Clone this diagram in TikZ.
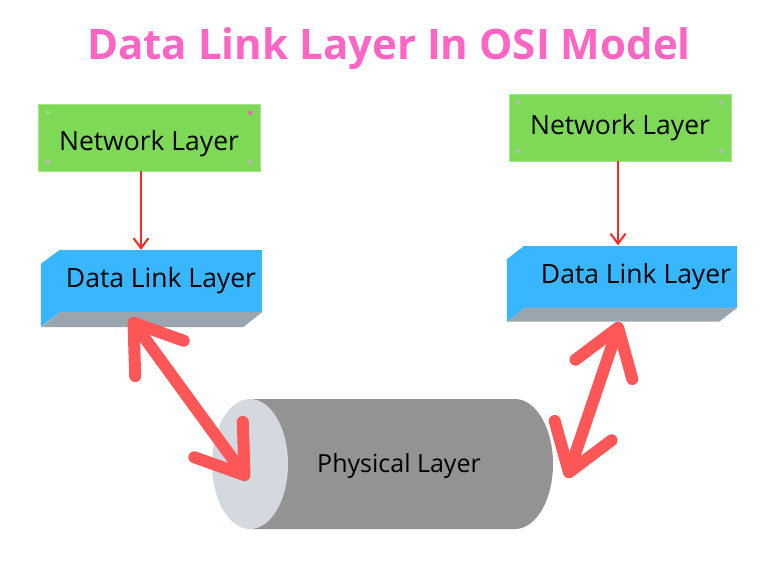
\documentclass[tikz,border=0pt]{standalone}
\usepackage{fontspec}
\setmainfont{Open Sans}
\usepackage{tikz}
\usetikzlibrary{arrows.meta, positioning}
\definecolor{titlepink}{HTML}{FF66C4}
\definecolor{netgreen}{HTML}{7ED957}
\definecolor{dllblue}{HTML}{38B6FF}
\definecolor{dllgray}{HTML}{9AA6AF}
\definecolor{cylbody}{HTML}{939393}
\definecolor{cylend}{HTML}{D3D9DE}
\definecolor{linkred}{HTML}{FF5757}
\definecolor{passred}{HTML}{FF2626}
\tikzstyle{network}=[rectangle, fill=netgreen, draw=netgreen!70!white, minimum width=222pt, minimum height=67pt, font=\fontsize{26.5}{30}\selectfont]
\tikzstyle{datalink}=[rectangle, fill=dllblue, minimum width=202pt, minimum height=62pt, font=\fontsize{26.5}{30}\selectfont]
\tikzstyle{handle}=[circle, fill=gray!55, inner sep=0pt, minimum size=4.5pt]
\tikzstyle{pass}=[passred, line width=2pt, -{Straight Barb[length=10pt,width=15pt]}]
\tikzstyle{link}=[linkred, line width=12pt, line cap=round, {Straight Barb[length=44pt,width=60pt,round]}-{Straight Barb[length=44pt,width=60pt,round]}]

\begin{document}
\begin{tikzpicture}[x=1pt,y=-1pt]
    \useasboundingbox (0,0) rectangle (776,560);

    % Title.
    \node[text=titlepink, font=\fontsize{42}{46}\selectfont\bfseries] (title) at (389,49) {Data Link Layer In OSI Model};

    % Left stack.
    \node[network, label={[yshift=-6pt, font=\fontsize{26.5}{30}\selectfont]center:Network Layer}] (netL) at (149,137.5) {};
    \node[datalink] (dllL) [below of=netL, node distance=143.5pt, xshift=12pt] {Data Link Layer};
    \fill[dllblue] (dllL.north west) -- ++(-19,14) -- ++(0,63) -- (dllL.south west) -- cycle;
    \fill[dllgray] (dllL.south west) -- (dllL.south east) -- ++(-19,15) -- ++(-202,0) -- cycle;
    \draw[pass] ([xshift=-8pt]netL.south) -- ([xshift=-8pt]netL.south |- dllL.north);

    % Right stack.
    \node[network] (netR) at (620,127.5) {Network Layer};
    \node[datalink, minimum width=212pt] (dllR) [below of=netR, node distance=149pt, xshift=11pt] {\hspace{10pt}Data Link Layer};
    \fill[dllblue] (dllR.north west) -- ++(-18,14) -- ++(0,63) -- (dllR.south west) -- cycle;
    \fill[dllgray] (dllR.south west) -- (dllR.south east) -- ++(-18,14) -- ++(-212,0) -- cycle;
    \draw[pass] ([xshift=-2pt]netR.south) -- ([xshift=-2pt]netR.south |- dllR.north);

    % Handles on the network boxes.
    \node[handle, fill=none, draw=gray!30, minimum size=3pt] at ([shift={(10,9)}]netL.north west) {};
    \node[handle, fill=magenta!60] at ([shift={(-10,9)}]netL.north east) {};
    \node[handle] at ([shift={(10,-9)}]netL.south west) {};
    \node[handle] at ([shift={(-10,-9)}]netL.south east) {};
    \node[handle] at ([shift={(9,9)}]netR.north west) {};
    \node[handle] at ([shift={(-10,9)}]netR.north east) {};
    \node[handle] at ([shift={(9,-10)}]netR.south west) {};
    \node[handle] at ([shift={(-10,-10)}]netR.south east) {};

    % Physical layer.
    \fill[cylbody] (250,399) -- (515,399) arc (-90:90:38 and 65) -- (250,529) -- cycle;
    \fill[cylend] (250,464) ellipse (38 and 65);
    \node[font=\fontsize{25}{28}\selectfont] (phys) at (399,466) {Physical Layer};

    % Links to the medium.
    \coordinate (lkLtop) at (130,318);
    \coordinate (lkLbot) at (248,480);
    \coordinate (lkRtop) at (620,322);
    \coordinate (lkRbot) at (567,478);
    \draw[link] (lkLtop) -- (lkLbot);
    \draw[link] (lkRbot) -- (lkRtop);
\end{tikzpicture}
\end{document}
